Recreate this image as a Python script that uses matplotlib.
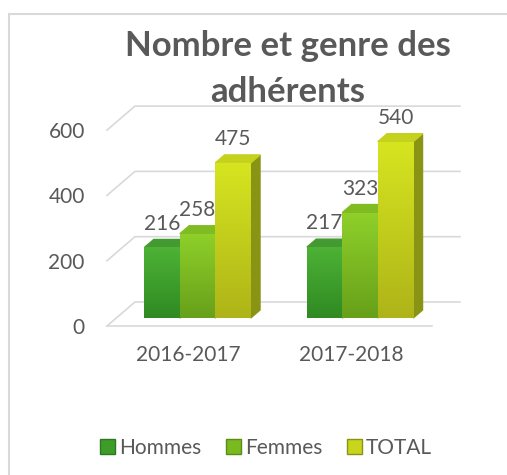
import numpy as np
import matplotlib.pyplot as plt
from matplotlib.patches import Polygon, Patch, Rectangle
from matplotlib.colors import LinearSegmentedColormap

plt.rcParams['font.family'] = ['Lato', 'DejaVu Sans']

# data
seasons = ['2016-2017', '2017-2018']
series = ['Hommes', 'Femmes', 'TOTAL']
hommes = [216, 217]
femmes = [258, 323]
total = [475, 540]
y_ticks = [0, 200, 400, 600]

# front gradient (bottom -> top), top face, side face
bottom_cols = ['#2f8a22', '#67a01a', '#aeb418']
upper_cols = ['#4db236', '#8fd02a', '#d6e520']
top_cols = ['#449a30', '#80bb22', '#c4d21e']
side_cols = ['#2d7a1e', '#5a8d14', '#8a9414']
legend_cols = ['#3e9c2b', '#7ab91f', '#c8d51d']
grey = '#595959'
grid_col = '#d9d9d9'

W, H = 507, 475
fig = plt.figure(figsize=(W / 100, H / 100), dpi=100)
ax = fig.add_axes([107 / W, (H - 326) / H, 325 / W, 195.9 / H])
ax.patch.set_visible(False)
for s in ax.spines.values():
    s.set_visible(False)

depth_x = 0.172   # floor depth in category units
depth_y = 73.5    # floor depth in value units
bar_w = 0.218

# back wall gridlines + floor edge (fake 3d)
for v in y_ticks:
    ax.plot([-0.5, -0.5 + depth_x, 1.5 + depth_x], [v, v + depth_y, v + depth_y],
            color=grid_col, lw=1.2, clip_on=False, zorder=1)
ax.plot([-0.5, 1.5], [0, 0], color=grid_col, lw=1.2, clip_on=False, zorder=1)

x = np.arange(len(seasons))
d0, d1 = 1 / 3, 2 / 3
ddx = (d1 - d0) * depth_x
ddy = (d1 - d0) * depth_y
y0 = d0 * depth_y
grad = np.linspace(0, 1, 256).reshape(-1, 1)
for i, vals in enumerate([hommes, femmes, total]):
    cmap = LinearSegmentedColormap.from_list('g%d' % i, [bottom_cols[i], upper_cols[i]])
    xf = x + (i - 1) * bar_w + d0 * depth_x
    bars = ax.bar(xf, vals, bar_w, bottom=y0, color=legend_cols[i],
                  zorder=3 + 2 * i, clip_on=False)
    for b, v in zip(bars, vals):
        l = b.get_x()
        r = l + b.get_width()
        t = y0 + v
        im = ax.imshow(grad, cmap=cmap, origin='lower', aspect='auto',
                       extent=(l, r, y0, t), zorder=3 + 2 * i)
        im.set_clip_path(b)
        ax.add_patch(Polygon([(r, y0), (r + ddx, y0 + ddy), (r + ddx, t + ddy), (r, t)],
                             closed=True, color=side_cols[i], zorder=2 + 2 * i, clip_on=False))
        ax.add_patch(Polygon([(l, t), (r, t), (r + ddx, t + ddy), (l + ddx, t + ddy)],
                             closed=True, color=top_cols[i], zorder=2 + 2 * i, clip_on=False))
        ax.annotate(str(v), (l + b.get_width() / 2, t + ddy), xytext=(0, 7),
                    textcoords='offset points', ha='center', va='baseline',
                    fontsize=15, color=grey, zorder=20, annotation_clip=False)

ax.set_xlim(-0.5, 1.5)
ax.set_ylim(0, 600)
ax.set_yticks(y_ticks)
ax.set_xticks(x)
ax.set_xticklabels(seasons)
ax.tick_params(axis='y', length=0, pad=16, labelsize=15, labelcolor=grey)
ax.tick_params(axis='x', length=0, pad=14, labelsize=15, labelcolor=grey)

# chart border (cropped on right/bottom)
fig.add_artist(Rectangle((9 / W, -0.05), 1.0, 1 - 14 / H + 0.05, transform=fig.transFigure,
                         fill=False, edgecolor=grid_col, lw=1.5))

fig.text(288 / W, 1 - 102 / H, "Nombre et genre des\nadhérents", ha='center', va='baseline',
         fontsize=25, fontweight='bold', color=grey, linespacing=1.55)

handles = [Patch(facecolor=legend_cols[i], edgecolor=side_cols[i]) for i in range(3)]
fig.legend(handles, series, loc='center', bbox_to_anchor=(266 / W, 1 - 448 / H), ncol=3,
           frameon=False, handlelength=0.7, handleheight=0.7, handletextpad=0.2,
           columnspacing=1.2, fontsize=15, labelcolor=grey)

fig.savefig('out.png', dpi=100)
